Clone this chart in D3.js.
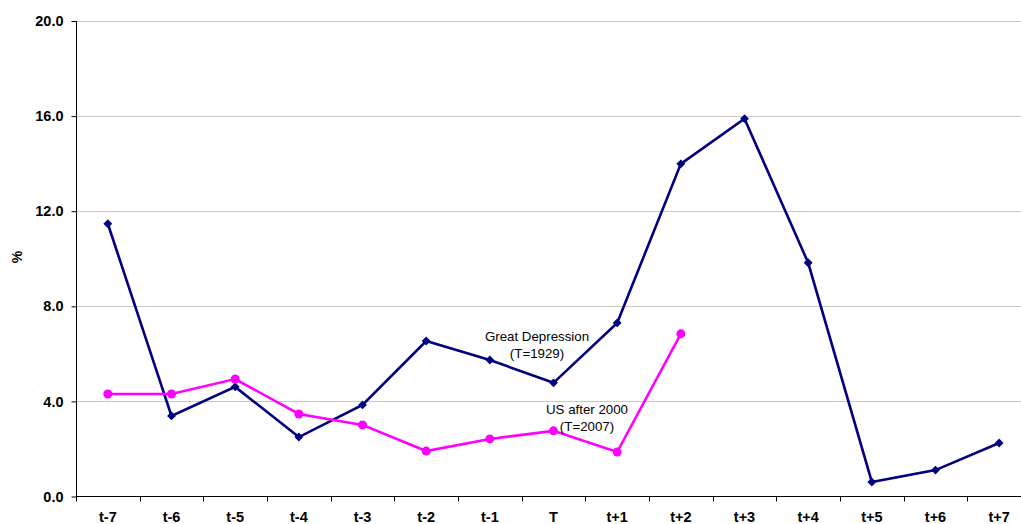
<!DOCTYPE html>
<html>
<head>
<meta charset="utf-8">
<script src="https://cdn.jsdelivr.net/npm/d3@7"></script>
<style>
  body { margin: 0; background: #fff; }
  svg { display: block; font-family: Arial, "Liberation Sans", sans-serif; }
  .grid line { stroke: #c8c8c8; stroke-width: 1; }
  .axis path, .axis line { stroke: #000; }
  .axis text { font-weight: bold; font-size: 14.5px; fill: #000; }
</style>
</head>
<body>
<div id="chart"></div>
<script>
// categories and values
var periods = ["t-7", "t-6", "t-5", "t-4", "t-3", "t-2", "t-1", "T", "t+1", "t+2", "t+3", "t+4", "t+5", "t+6", "t+7"];
var greatDepression = [11.45, 3.37, 4.59, 2.48, 3.83, 6.52, 5.72, 4.76, 7.28, 13.97, 15.87, 9.81, 0.59, 1.09, 2.23];
var usAfter2000 = [4.29, 4.29, 4.92, 3.45, 2.99, 1.89, 2.40, 2.74, 1.85, 6.82];
var yTicks = [0, 4, 8, 12, 16, 20];

var width = 1021, height = 524;
var margin = {top: 20.5, left: 76, bottom: 28};
var plotW = 955; // plot runs past the right edge, as in the original

var svg = d3.select("#chart").append("svg")
    .attr("width", width)
    .attr("height", height);

var x = d3.scaleBand()
    .domain(periods)
    .range([margin.left, margin.left + plotW]);

var y = d3.scaleLinear()
    .domain([0, 20])
    .range([height - margin.bottom, margin.top]);

// gridlines
svg.append("g").attr("class", "grid")
    .selectAll("line")
    .data(yTicks.slice(1))
    .enter().append("line")
    .attr("x1", margin.left)
    .attr("x2", margin.left + plotW)
    .attr("y1", function (d) { return Math.round(y(d)) + 0.5; })
    .attr("y2", function (d) { return Math.round(y(d)) + 0.5; });

// y axis
var yAxis = svg.append("g").attr("class", "axis")
    .attr("transform", "translate(" + (margin.left + 0.5) + ",0.5)")
    .call(d3.axisLeft(y).tickValues(yTicks).tickFormat(d3.format(".1f")).tickSize(5).tickPadding(8));
yAxis.select(".domain").attr("d", "M0," + y(20) + "V" + y(0));

// x axis
var xAxis = svg.append("g").attr("class", "axis")
    .attr("transform", "translate(0," + (Math.round(y(0)) + 0.5) + ")")
    .call(d3.axisBottom(x).tickSize(0).tickPadding(15));
xAxis.select(".domain").attr("d", "M" + margin.left + ",0H" + (margin.left + plotW));
// ticks between categories
xAxis.selectAll(".sep")
    .data(periods.concat(["end"]))
    .enter().append("line")
    .attr("class", "sep")
    .attr("x1", function (d, i) { return Math.round(margin.left + i * x.step()) + 0.5; })
    .attr("x2", function (d, i) { return Math.round(margin.left + i * x.step()) + 0.5; })
    .attr("y1", 0)
    .attr("y2", 5);

// y label
svg.append("text")
    .attr("transform", "translate(22,257) rotate(-90)")
    .attr("text-anchor", "middle")
    .style("font-weight", "bold")
    .style("font-size", "14px")
    .text("%");

var cx = function (d, i) { return x(periods[i]) + x.bandwidth() / 2; };

var line = d3.line()
    .x(cx)
    .y(function (d) { return y(d); });

// Great Depression
svg.append("path")
    .datum(greatDepression)
    .attr("fill", "none")
    .attr("stroke", "#000080")
    .attr("stroke-width", 2.6)
    .attr("d", line);

svg.selectAll(".gd")
    .data(greatDepression)
    .enter().append("path")
    .attr("class", "gd")
    .attr("d", d3.symbol().type(d3.symbolDiamond2).size(50))
    .attr("transform", function (d, i) { return "translate(" + cx(d, i) + "," + y(d) + ")"; })
    .attr("fill", "#000080");

// US after 2000
svg.append("path")
    .datum(usAfter2000)
    .attr("fill", "none")
    .attr("stroke", "#ff00ff")
    .attr("stroke-width", 2.6)
    .attr("d", line);

svg.selectAll(".us")
    .data(usAfter2000)
    .enter().append("circle")
    .attr("class", "us")
    .attr("cx", cx)
    .attr("cy", function (d) { return y(d); })
    .attr("r", 4.5)
    .attr("fill", "#ff00ff");

// annotations
var notes = [
    {lines: ["Great Depression", "(T=1929)"], x: 537, y: 341},
    {lines: ["US after 2000", "(T=2007)"], x: 587, y: 414}
];
notes.forEach(function (n) {
    var t = svg.append("text")
        .attr("text-anchor", "middle")
        .style("font-size", "13.3px");
    n.lines.forEach(function (s, k) {
        t.append("tspan")
            .attr("x", n.x)
            .attr("y", n.y + k * 17)
            .text(s);
    });
});
</script>
</body>
</html>
